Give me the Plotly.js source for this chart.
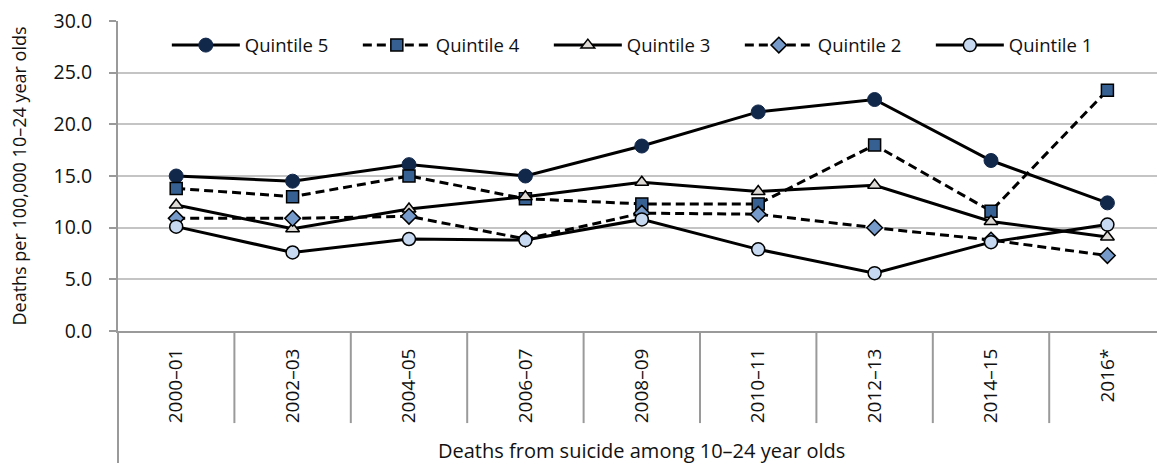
<!DOCTYPE html>
<html>
<head>
<meta charset="utf-8">
<script src="https://cdn.plot.ly/plotly-3.0.1.min.js"></script>
<style>html,body{margin:0;padding:0;background:#fff;}#chart{width:1157px;height:463px;}</style>
</head>
<body>
<div id="chart"></div>
<script>
const categories = ["2000–01","2002–03","2004–05","2006–07","2008–09","2010–11","2012–13","2014–15","2016*"];
const quintile5 = [15.0, 14.5, 16.1, 15.0, 17.9, 21.2, 22.4, 16.5, 12.4];
const quintile4 = [13.8, 13.0, 15.0, 12.8, 12.3, 12.3, 18.0, 11.6, 23.3];
const quintile3 = [12.2, 9.9, 11.8, 13.0, 14.4, 13.5, 14.1, 10.6, 9.1];
const quintile2 = [10.9, 10.9, 11.1, 8.9, 11.4, 11.3, 10.0, 8.8, 7.3];
const quintile1 = [10.1, 7.6, 8.9, 8.8, 10.8, 7.9, 5.6, 8.6, 10.3];
const yTicks = [0, 5, 10, 15, 20, 25, 30];
const yTickLabels = ["0.0","5.0","10.0","15.0","20.0","25.0","30.0"];
const xTitle = "Deaths from suicide among 10–24 year olds";
const yTitle = "Deaths per 100,000 10–24 year olds";

const FONT = "'Open Sans', 'Noto Sans', sans-serif";
const TXT = "#111";

function series(name, y, dash, symbol, size, fill, outline, olw) {
  return {
    type: "scatter", mode: "lines+markers", name: name,
    x: categories, y: y,
    line: {color: "#000", width: 3, dash: dash},
    marker: {symbol: symbol, size: size, color: fill, line: {color: outline, width: olw}},
    cliponaxis: false
  };
}

const traces = [
  series("Quintile 5", quintile5, "solid", "circle", 14, "#12284b", "#12284b", 1),
  series("Quintile 4", quintile4, "9px,5px", "square", 12, "#376092", "#000", 1.5),
  series("Quintile 3", quintile3, "solid", "triangle-up", 12, "#ddd9d4", "#000", 1.5),
  series("Quintile 2", quintile2, "9px,5px", "diamond", 12, "#769bca", "#000", 1.5),
  series("Quintile 1", quintile1, "solid", "circle", 13, "#c6d9f1", "#000", 1.5)
];

const n = categories.length;
const shapes = [];
for (let i = 0; i < n - 1; i++) {
  shapes.push({type: "line", xref: "x", yref: "paper", x0: i + 0.5, x1: i + 0.5,
    y0: 0, y1: -0.297, line: {color: "#9a9a9a", width: 2}, layer: "below"});
}
shapes.push({type: "line", xref: "paper", yref: "paper", x0: 0, x1: 0, y0: 0, y1: -0.43,
  line: {color: "#9a9a9a", width: 2}});

const layout = {
  width: 1157, height: 463,
  margin: {l: 118, r: 0, t: 21, b: 132},
  paper_bgcolor: "#fff", plot_bgcolor: "#fff",
  font: {family: FONT, size: 18, color: TXT},
  showlegend: true,
  legend: {orientation: "h", x: 0.047, xanchor: "left", y: 0.982, yanchor: "top",
    bgcolor: "rgba(0,0,0,0)", font: {family: FONT, size: 18.5, color: TXT},
    itemwidth: 68, entrywidth: 108, entrywidthmode: "pixels", tracegroupgap: 0},
  xaxis: {
    type: "category", range: [-0.5, 8.426], fixedrange: true,
    showgrid: false, zeroline: false, showline: true, linecolor: "#9a9a9a", linewidth: 2,
    ticks: "", tickangle: -90, ticklabelstandoff: 8,
    tickfont: {family: FONT, size: 19, color: TXT}
  },
  yaxis: {
    range: [0, 30], tickvals: yTicks, ticktext: yTickLabels,
    showgrid: true, gridcolor: "#c4c4c4", gridwidth: 2, zeroline: false,
    showline: true, linecolor: "#9a9a9a", linewidth: 2,
    ticks: "outside", ticklen: 7, tickcolor: "#9a9a9a", tickwidth: 2,
    ticklabelstandoff: 13,
    tickfont: {family: FONT, size: 19.5, color: TXT},
    title: {text: yTitle, font: {family: FONT, size: 18, color: TXT}, standoff: 22}
  },
  shapes: shapes,
  annotations: [{
    text: xTitle, xref: "x", yref: "paper", x: (n - 1) / 2, y: -0.385,
    xanchor: "center", yanchor: "middle", showarrow: false,
    font: {family: FONT, size: 20, color: TXT}
  }]
};

Plotly.newPlot("chart", traces, layout, {displayModeBar: false, staticPlot: true});
</script>
</body>
</html>
